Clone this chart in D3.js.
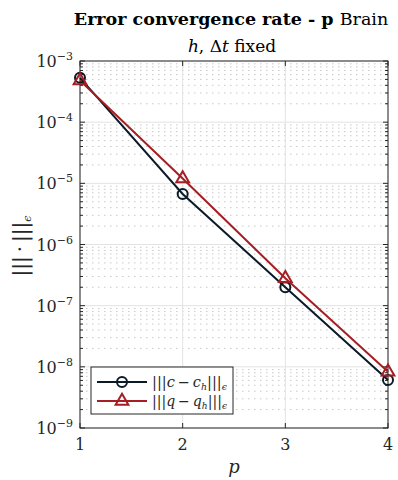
<!DOCTYPE html>
<html>
<head>
<meta charset="utf-8">
<style>
body { margin: 0; background: #fff; }
text { font-family: "DejaVu Serif", serif; fill: #262626; }
</style>
</head>
<body>
<svg width="398" height="480"></svg>
<script src="https://cdn.jsdelivr.net/npm/d3@7"></script>
<script>
// data
var pValues = [1, 2, 3, 4];
var errC = [5.3e-4, 6.7e-6, 2.0e-7, 6.1e-9];
var errQ = [4.8e-4, 1.2e-5, 2.8e-7, 8.3e-9];
var yTicks = [1e-9, 1e-8, 1e-7, 1e-6, 1e-5, 1e-4, 1e-3];
var yExp = [-9, -8, -7, -6, -5, -4, -3];

var svg = d3.select("svg");
var pL = 80, pR = 388, pT = 61, pB = 428;

var x = d3.scaleLinear().domain([1, 4]).range([pL, pR]);
var y = d3.scaleLog().domain([1e-9, 1e-3]).range([pB, pT]);

// minor values
var minor = [];
for (var e = -9; e < -3; e++) {
	for (var k = 2; k <= 9; k++) minor.push(k * Math.pow(10, e));
}

var g = svg.append("g");

// minor grid
g.selectAll(".mgrid").data(minor).enter().append("line")
  .attr("x1", pL).attr("x2", pR)
  .attr("y1", function(d) { return y(d); })
  .attr("y2", function(d) { return y(d); })
  .attr("stroke", "#c8c8c8").attr("stroke-width", 1)
  .attr("stroke-dasharray", "1.5,4.5");

// major grid
g.selectAll(".ygrid").data(yTicks).enter().append("line")
  .attr("x1", pL).attr("x2", pR)
  .attr("y1", function(d) { return y(d); })
  .attr("y2", function(d) { return y(d); })
  .attr("stroke", "#e3e3e3").attr("stroke-width", 1);
g.selectAll(".xgrid").data(pValues).enter().append("line")
  .attr("y1", pT).attr("y2", pB)
  .attr("x1", function(d) { return x(d); })
  .attr("x2", function(d) { return x(d); })
  .attr("stroke", "#e3e3e3").attr("stroke-width", 1);

var tickColor = "#262626";

function yTickLines(x0, dir) {
	g.selectAll(null).data(yTicks).enter().append("line")
	  .attr("x1", x0).attr("x2", x0 + dir * 5)
	  .attr("y1", function(d) { return y(d); }).attr("y2", function(d) { return y(d); })
	  .attr("stroke", tickColor);
	g.selectAll(null).data(minor).enter().append("line")
	  .attr("x1", x0).attr("x2", x0 + dir * 3)
	  .attr("y1", function(d) { return y(d); }).attr("y2", function(d) { return y(d); })
	  .attr("stroke", tickColor);
}
yTickLines(pL, 1);
yTickLines(pR, -1);

function xTickLines(y0, dir) {
	g.selectAll(null).data(pValues).enter().append("line")
	  .attr("y1", y0).attr("y2", y0 + dir * 5)
	  .attr("x1", function(d) { return x(d); }).attr("x2", function(d) { return x(d); })
	  .attr("stroke", tickColor);
}
xTickLines(pB, -1);
xTickLines(pT, 1);

g.append("rect").attr("x", pL).attr("y", pT)
  .attr("width", pR - pL).attr("height", pB - pT)
  .attr("fill", "none").attr("stroke", tickColor).attr("stroke-width", 1);

// tick labels
var yl = g.selectAll(".ylab").data(yTicks).enter().append("text")
  .attr("x", 73).attr("y", function(d) { return y(d) + 6; })
  .attr("text-anchor", "end").style("font-size", "16px");
yl.append("tspan").text("10");
yl.append("tspan").attr("dy", -7).style("font-size", "11px")
  .text(function(d, i) { return "\u2212" + (-yExp[i]); });

g.selectAll(".xlab").data(pValues).enter().append("text")
  .attr("x", function(d) { return x(d); }).attr("y", 450)
  .attr("text-anchor", "middle").style("font-size", "16px")
  .text(function(d) { return d; });

// axis labels
svg.append("text").attr("x", 234).attr("y", 473).attr("text-anchor", "middle")
  .style("font-size", "18px").style("font-style", "italic").text("p");

var ylab = svg.append("text").attr("transform", "translate(27,246) rotate(-90)")
  .attr("text-anchor", "middle").style("font-size", "20px");
ylab.append("tspan").text("|||\u2009\u00b7\u2009|||");
ylab.append("tspan").attr("dy", 4).style("font-size", "11px").style("font-style", "italic").text("\u03f5");

// title
var t = svg.append("text").attr("x", 231).attr("y", 25).attr("text-anchor", "middle")
  .style("font-size", "17.5px").style("fill", "#000");
t.append("tspan").style("font-weight", "bold").text("Error convergence rate - p ");
t.append("tspan").text("Brain");
var st = svg.append("text").attr("x", 232).attr("y", 52).attr("text-anchor", "middle")
  .style("font-size", "17px").style("fill", "#000");
st.append("tspan").style("font-style", "italic").text("h");
st.append("tspan").text(", \u0394");
st.append("tspan").style("font-style", "italic").text("t");
st.append("tspan").text(" fixed");

// series
var colC = "#0b1a27", colQ = "#a51e23";
var line = d3.line().x(function(d) { return x(d[0]); }).y(function(d) { return y(d[1]); });
var dataC = pValues.map(function(p, i) { return [p, errC[i]]; });
var dataQ = pValues.map(function(p, i) { return [p, errQ[i]]; });

svg.append("path").datum(dataC).attr("d", line)
  .attr("fill", "none").attr("stroke", colC).attr("stroke-width", 2);
svg.append("path").datum(dataQ).attr("d", line)
  .attr("fill", "none").attr("stroke", colQ).attr("stroke-width", 2);

svg.selectAll(".mc").data(dataC).enter().append("circle")
  .attr("cx", function(d) { return x(d[0]); }).attr("cy", function(d) { return y(d[1]); })
  .attr("r", 5).attr("fill", "none").attr("stroke", colC).attr("stroke-width", 2);

var tri = d3.symbol().type(d3.symbolTriangle).size(70);
svg.selectAll(".mq").data(dataQ).enter().append("path")
  .attr("d", tri)
  .attr("transform", function(d) { return "translate(" + x(d[0]) + "," + y(d[1]) + ")"; })
  .attr("fill", "none").attr("stroke", colQ).attr("stroke-width", 2);

// legend
var lg = svg.append("g");
lg.append("rect").attr("x", 91).attr("y", 367).attr("width", 142).attr("height", 47)
  .attr("fill", "#fff").attr("stroke", tickColor).attr("stroke-width", 1);
var items = [
	{ c: colC, m: "circle", a: "c", b: "c", y: 382 },
	{ c: colQ, m: "tri", a: "q", b: "q", y: 401 }
];
items.forEach(function(it) {
	lg.append("line").attr("x1", 97).attr("x2", 147).attr("y1", it.y).attr("y2", it.y)
	  .attr("stroke", it.c).attr("stroke-width", 2);
	if (it.m == "circle") {
		lg.append("circle").attr("cx", 122).attr("cy", it.y).attr("r", 5)
		  .attr("fill", "none").attr("stroke", it.c).attr("stroke-width", 2);
	} else {
		lg.append("path").attr("d", tri).attr("transform", "translate(122," + it.y + ")")
		  .attr("fill", "none").attr("stroke", it.c).attr("stroke-width", 2);
	}
	var tx = lg.append("text").attr("x", 152).attr("y", it.y + 5).style("font-size", "14px")
	  .attr("textLength", 75).attr("lengthAdjust", "spacingAndGlyphs");
	tx.append("tspan").text("|||");
	tx.append("tspan").style("font-style", "italic").text(it.a);
	tx.append("tspan").text("\u2009\u2212\u2009");
	tx.append("tspan").style("font-style", "italic").text(it.b);
	tx.append("tspan").attr("dy", 3).style("font-size", "9px").style("font-style", "italic").text("h");
	tx.append("tspan").attr("dy", -3).text("|||");
	tx.append("tspan").attr("dy", 3).style("font-size", "9px").style("font-style", "italic").text("\u03f5");
});
</script>
</body>
</html>
